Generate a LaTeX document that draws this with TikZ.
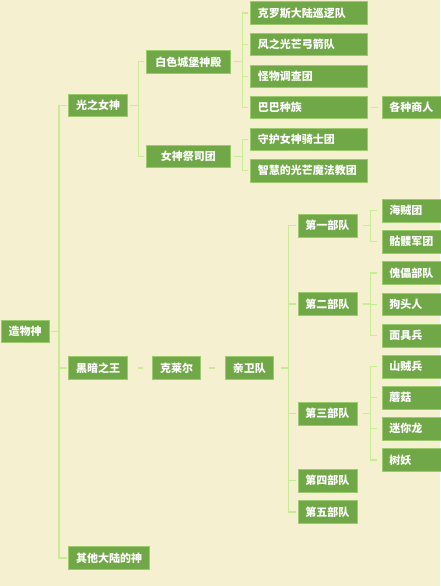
\documentclass[tikz,border=0pt]{standalone}
\usepackage{fontspec}
\newfontfamily\cjk{Noto Sans CJK SC}
\definecolor{bg}{HTML}{F5F0D0}
\definecolor{boxgreen}{HTML}{71A847}
\definecolor{boxedge}{HTML}{9CCB6E}
\definecolor{linkgreen}{HTML}{C8EC96}
\begin{document}
\begin{tikzpicture}[x=1pt,y=-1pt,
    box/.style={fill=boxgreen, draw=boxedge, line width=.5pt, text=white, font=\cjk\bfseries\fontsize{11}{13}\selectfont, minimum height=22.6pt, inner xsep=7.5pt, inner ysep=0pt, anchor=west},
    cbox/.style={box, minimum width=#1},
    lbox/.style={box, text width=#1, align=left},
    link/.style={draw=linkgreen, line width=1.3pt}]
  \fill[bg] (0,0) rectangle (440,586);
  \useasboundingbox (0,0) rectangle (440,586);
  % levels 0 and 1
  \node[cbox=47.7pt] (zao) at (1,331.3) {造物神};
  \node[cbox=58pt] (guang) at (68.3,105.2) {光之女神};
  \node[cbox=58pt] (hei) at (68.3,368) {黑暗之王};
  \node[cbox=80.4pt] (qita) at (68.3,558) {其他大陆的神};
  % light side
  \node[cbox=84.6pt] (bai) at (145.7,61.8) {白色城堡神殿};
  \node[cbox=84.6pt] (jisi) at (145.7,156.2) {女神祭司团};
  \node[lbox=102pt] (kelos) at (250,13) {克罗斯大陆巡逻队};
  \node[lbox=102pt] (feng) at (250,44.2) {风之光芒弓箭队};
  \node[lbox=102pt] (guaiwu) at (250,76.2) {怪物调查团};
  \node[lbox=102pt] (baba) at (250,107.3) {巴巴种族};
  \node[lbox=102pt] (shouhu) at (250,139.3) {守护女神骑士团};
  \node[lbox=102pt] (zhihui) at (250,170.7) {智慧的光芒魔法教团};
  \node[lbox=50pt] (shang) at (381.7,107.3) {各种商人};
  % dark side
  \node[cbox=46.7pt] (kelai) at (152.3,368) {克莱尔};
  \node[cbox=46.7pt] (qinwei) at (225,368) {亲卫队};
  \node[cbox=58pt] (bu1) at (297.7,225.7) {第一部队};
  \node[cbox=58pt] (bu2) at (297.7,304) {第二部队};
  \node[cbox=58pt] (bu3) at (297.7,413.7) {第三部队};
  \node[cbox=58pt] (bu4) at (297.7,480.7) {第四部队};
  \node[cbox=58pt] (bu5) at (297.7,512) {第五部队};
  \node[lbox=50pt] (haizei) at (381.7,210.7) {海贼团};
  \node[lbox=50pt] (kulou) at (381.7,241.8) {骷髅军团};
  \node[lbox=50pt] (kuilei) at (381.7,273) {傀儡部队};
  \node[lbox=50pt] (goutou) at (381.7,304.2) {狗头人};
  \node[lbox=50pt] (mianju) at (381.7,335.5) {面具兵};
  \node[lbox=50pt] (shanzei) at (381.7,366.5) {山贼兵};
  \node[lbox=50pt] (mogu) at (381.7,397.5) {蘑菇};
  \node[lbox=50pt] (milong) at (381.7,428.8) {迷你龙};
  \node[lbox=50pt] (shuyao) at (381.7,460) {树妖};
  % connectors
  \foreach \c in {guang,hei,qita}
    \draw[link] ([xshift=1.5pt]zao.east) -- ++(8,0) |- ([xshift=-1.5pt]\c.west);
  \foreach \c in {bai,jisi}
    \draw[link] ([xshift=2pt]guang.east) -- ++(8.4,0) |- ([xshift=-1.5pt]\c.west);
  \foreach \c in {kelos,feng,guaiwu,baba}
    \draw[link] ([xshift=3pt]bai.east) -- ++(8.7,0) |- ([xshift=-1.7pt]\c.west);
  \foreach \c in {shouhu,zhihui}
    \draw[link] ([xshift=3pt]jisi.east) -- ++(8.7,0) |- ([xshift=-1.7pt]\c.west);
  \foreach \c in {bu1,bu2,bu3,bu4,bu5}
    \draw[link] ([xshift=7.6pt]qinwei.east) -- ++(7.4,0) |- ([xshift=-1.5pt]\c.west);
  \foreach \c in {haizei,kulou}
    \draw[link] ([xshift=5.3pt]bu1.east) -- ++(8.3,0) |- ([xshift=-5pt]\c.west);
  \foreach \c in {kuilei,goutou,mianju}
    \draw[link] ([xshift=5.3pt]bu2.east) -- ++(8.3,0) |- ([xshift=-5pt]\c.west);
  \foreach \c in {shanzei,mogu,milong,shuyao}
    \draw[link] ([xshift=5.3pt]bu3.east) -- ++(8.3,0) |- ([xshift=-5pt]\c.west);
  \draw[link, shorten <=3.7pt, shorten >=4pt] (baba.east) -- (shang.west);
  \draw[link, shorten <=10.4pt, shorten >=9pt] (hei.east) -- (kelai.west);
  \draw[link, shorten <=7.7pt, shorten >=10pt] (kelai.east) -- (qinwei.west);
\end{tikzpicture}
\end{document}
